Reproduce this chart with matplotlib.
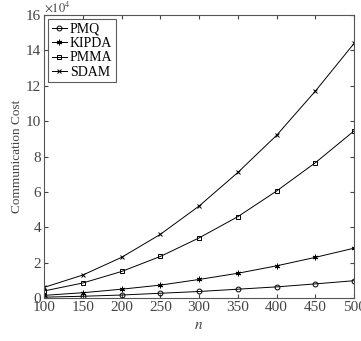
import matplotlib
matplotlib.use("Agg")
import matplotlib.pyplot as plt
import numpy as np

plt.rcParams['font.family'] = ['Liberation Serif', 'DejaVu Serif']
plt.rcParams['mathtext.fontset'] = 'stix'

n = [100, 150, 200, 250, 300, 350, 400, 450, 500]
pmq = [0.05, 0.10, 0.17, 0.27, 0.37, 0.50, 0.63, 0.80, 0.98]
kipda = [0.15, 0.30, 0.50, 0.73, 1.05, 1.40, 1.82, 2.30, 2.82]
pmma = [0.40, 0.85, 1.50, 2.35, 3.40, 4.60, 6.05, 7.65, 9.45]
sdam = [0.60, 1.30, 2.30, 3.60, 5.20, 7.10, 9.20, 11.70, 14.40]

fig = plt.figure(figsize=(3.61, 3.41), dpi=100)
ax = fig.add_axes([0.122, 0.126, 0.859, 0.830])

lw = 0.7
ax.plot(n, pmq, color='k', lw=lw, marker='o', ms=3.5, mfc='none', mew=0.7, label='PMQ')
ax.plot(n, kipda, color='k', lw=lw, marker=(6, 2, 0), ms=4, mew=0.7, label='KIPDA')
ax.plot(n, pmma, color='k', lw=lw, marker='s', ms=3, mfc='none', mew=0.7, label='PMMA')
ax.plot(n, sdam, color='k', lw=lw, marker='x', ms=3.5, mew=0.7, label='SDAM')

ax.set_xlim(100, 500)
ax.set_ylim(0, 16)
ax.set_xticks(n)
ax.set_yticks(np.arange(0, 17, 2))
ax.tick_params(direction='in', length=3, labelsize=11, colors='#444444', top=True, right=True, pad=2)
for s in ax.spines.values():
    s.set_color('#555555')
    s.set_linewidth(0.8)

ax.set_xlabel('$n$', fontsize=11, color='#444444')
ax.set_ylabel('Communication Cost', fontsize=9.5, color='#444444', labelpad=2)
ax.text(0.0, 1.0, r'$\times10^4$', transform=ax.transAxes, fontsize=9, color='#444444', va='bottom', ha='left')

leg = ax.legend(loc='upper left', fontsize=10, frameon=True, fancybox=False, edgecolor='#333333',
                handlelength=1.1, handletextpad=0.2, borderpad=0.25, labelspacing=0.1, borderaxespad=0.3)
leg.get_frame().set_linewidth(0.8)

fig.savefig('out.png', dpi=100)
